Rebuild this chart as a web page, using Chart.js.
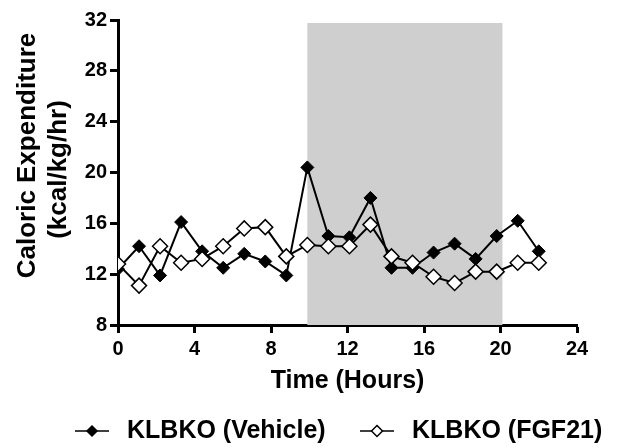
<!DOCTYPE html>
<html>
<head>
<meta charset="utf-8">
<script src="https://cdn.jsdelivr.net/npm/chart.js@4.4.1/dist/chart.umd.min.js"></script>
<style>
  html, body { margin: 0; padding: 0; background: #fff; }
  #wrap { width: 619px; height: 448px; }
</style>
</head>
<body>
<div id="wrap"><canvas id="calChart" width="619" height="448"></canvas></div>
<script>
// ================= DATA =================
const hours = [0, 1.1, 2.2, 3.3, 4.4, 5.5, 6.6, 7.7, 8.8, 9.9, 11, 12.1, 13.2, 14.3, 15.4, 16.5, 17.6, 18.7, 19.8, 20.9, 22];
const vehicle = [12.4, 14.2, 11.9, 16.1, 13.8, 12.5, 13.6, 13.0, 11.9, 20.4, 15.0, 14.9, 18.0, 12.5, 12.5, 13.7, 14.4, 13.2, 15.0, 16.2, 13.8];
const fgf21 = [12.8, 11.1, 14.2, 12.9, 13.2, 14.2, 15.6, 15.7, 13.4, 14.3, 14.2, 14.2, 15.9, 13.4, 12.9, 11.8, 11.3, 12.2, 12.2, 12.9, 12.9];
const seriesNames = ["KLBKO (Vehicle)", "KLBKO (FGF21)"];
const yTitle = ["Caloric Expenditure", "(kcal/kg/hr)"];
const darkPhase = [9.9, 20.1];
const xTicks = [0, 4, 8, 12, 16, 20, 24];
const yTicks = [8, 12, 16, 20, 24, 28, 32];

const FONT = "'Liberation Sans', Arial, sans-serif";

function toPoints(ys) {
  return ys.map((y, i) => ({ x: hours[i], y }));
}

// ================= PLUGINS =================
const shadePlugin = {
  id: "shade",
  beforeDatasetsDraw(chart) {
    const { ctx, chartArea, scales } = chart;
    const x1 = scales.x.getPixelForValue(darkPhase[0]);
    const x2 = scales.x.getPixelForValue(darkPhase[1]);
    ctx.save();
    ctx.fillStyle = "#cfcfcf";
    ctx.fillRect(x1, chartArea.top + 3, x2 - x1, chartArea.bottom - chartArea.top - 3);
    ctx.restore();
  }
};

// two-line y title, first line sits a bit higher than the second
const yTitlePlugin = {
  id: "yTitle",
  afterDraw(chart) {
    const ctx = chart.ctx;
    const mid = (chart.chartArea.top + chart.chartArea.bottom) / 2;
    ctx.save();
    ctx.fillStyle = "#000";
    ctx.font = "bold 26px " + FONT;
    ctx.textAlign = "center";
    ctx.textBaseline = "middle";
    [[28, mid - 17], [59, mid - 3]].forEach(([x, y], i) => {
      ctx.save();
      ctx.translate(x, y);
      ctx.rotate(-Math.PI / 2);
      ctx.fillText(yTitle[i], 0, 0);
      ctx.restore();
    });
    ctx.restore();
  }
};

const legendPlugin = {
  id: "bottomLegend",
  afterDraw(chart) {
    const ctx = chart.ctx;
    const y = 431;
    const items = [
      { x: 75, filled: true, r: 5, text: seriesNames[0] },
      { x: 360, filled: false, r: 5.5, text: seriesNames[1] }
    ];
    ctx.save();
    items.forEach(it => {
      ctx.strokeStyle = "#000";
      ctx.lineWidth = 1.5;
      ctx.beginPath();
      ctx.moveTo(it.x, y);
      ctx.lineTo(it.x + 34, y);
      ctx.stroke();
      const cx = it.x + 17;
      ctx.beginPath();
      ctx.moveTo(cx, y - it.r);
      ctx.lineTo(cx + it.r, y);
      ctx.lineTo(cx, y + it.r);
      ctx.lineTo(cx - it.r, y);
      ctx.closePath();
      ctx.fillStyle = it.filled ? "#000" : "#fff";
      ctx.fill();
      ctx.stroke();
      ctx.fillStyle = "#000";
      ctx.font = "bold 25px " + FONT;
      ctx.textBaseline = "middle";
      ctx.textAlign = "left";
      ctx.fillText(it.text, it.x + 52, y);
    });
    ctx.restore();
  }
};

// ================= CHART =================
new Chart(document.getElementById("calChart"), {
  type: "scatter",
  data: {
    datasets: [
      {
        label: seriesNames[0],
        data: toPoints(vehicle),
        showLine: true,
        borderColor: "#000",
        borderWidth: 2,
        pointStyle: "rectRot",
        pointRadius: 6.5,
        pointBackgroundColor: "#000",
        pointBorderColor: "#000",
        pointBorderWidth: 1,
        order: 2
      },
      {
        label: seriesNames[1],
        data: toPoints(fgf21),
        showLine: true,
        borderColor: "#000",
        borderWidth: 2,
        pointStyle: "rectRot",
        pointRadius: 7.5,
        pointBackgroundColor: "#fff",
        pointBorderColor: "#000",
        pointBorderWidth: 1.5,
        order: 1
      }
    ]
  },
  options: {
    responsive: false,
    animation: false,
    devicePixelRatio: 1,
    layout: { padding: { top: 20, right: 42, bottom: 48, left: 0 } },
    plugins: {
      legend: { display: false },
      tooltip: { enabled: false }
    },
    scales: {
      x: {
        type: "linear",
        min: 0,
        max: 24,
        afterBuildTicks: (s) => { s.ticks = xTicks.map(v => ({ value: v })); },
        afterFit: (s) => { s.height = 75; },
        border: { color: "#000", width: 3 },
        grid: { drawOnChartArea: false, color: "#000", tickLength: 8, tickWidth: 3, tickColor: "#000" },
        ticks: { color: "#000", padding: 4, font: { family: FONT, size: 20, weight: "bold" } },
        title: {
          display: true,
          text: "Time (Hours)",
          color: "#000",
          padding: { top: 4, bottom: 4 },
          font: { family: FONT, size: 25, weight: "bold" }
        }
      },
      y: {
        min: 8,
        max: 32,
        afterBuildTicks: (s) => { s.ticks = yTicks.map(v => ({ value: v })); },
        afterFit: (s) => { s.width = 118; },
        border: { color: "#000", width: 3 },
        grid: { drawOnChartArea: false, color: "#000", tickLength: 8, tickWidth: 3, tickColor: "#000" },
        ticks: { color: "#000", padding: 3, font: { family: FONT, size: 20, weight: "bold" } }
      }
    }
  },
  plugins: [shadePlugin, yTitlePlugin, legendPlugin]
});
</script>
</body>
</html>
